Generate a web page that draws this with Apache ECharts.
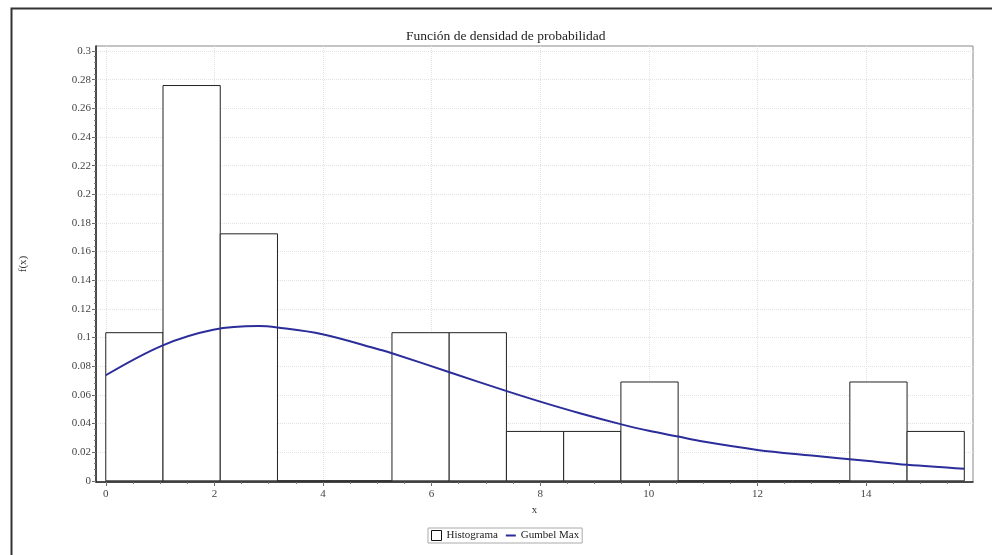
<!DOCTYPE html>
<html><head><meta charset="utf-8">
<script src="https://cdn.jsdelivr.net/npm/echarts@6/dist/echarts.min.js"></script>
<style>html,body{margin:0;padding:0;background:#fff}#c{width:992px;height:555px}</style>
</head><body><div id="c"></div>
<script>
// Histogram bins (edges) and densities
const binEdges = [0, 1.054, 2.108, 3.162, 4.216, 5.270, 6.324, 7.378, 8.432, 9.486, 10.540, 11.594, 12.648, 13.702, 14.756, 15.810];
const densities = [0.1034, 0.2759, 0.1724, 0, 0, 0.1034, 0.1034, 0.0345, 0.0345, 0.0690, 0, 0, 0, 0.0690, 0.0345];
// Gumbel Max curve
const curveX = [0, 1.04, 1.98, 2.81, 3.16, 3.99, 5.05, 5.27, 6.33, 7.37, 8.0, 8.73, 9.48, 10.0, 10.54, 11.0, 12.0, 13.0, 14.0, 14.76, 15.81];
const curveY = [0.0737, 0.0944, 0.1054, 0.1080, 0.1070, 0.1023, 0.0915, 0.0891, 0.0758, 0.0628, 0.0553, 0.0472, 0.0396, 0.0349, 0.0309, 0.0274, 0.0216, 0.0177, 0.0140, 0.0112, 0.0084];
// Tick labels
const xTicks = [0, 2, 4, 6, 8, 10, 12, 14];
const yTicks = [0, 0.02, 0.04, 0.06, 0.08, 0.1, 0.12, 0.14, 0.16, 0.18, 0.2, 0.22, 0.24, 0.26, 0.28, 0.3];

const xMinor = [];
for (let i = 0; i <= 31; i++) xMinor.push(i * 0.5);
const yMinor = [];
for (let i = 0; i <= 75; i++) yMinor.push(+(i * 0.004).toFixed(3));

const X_MIN = -0.18, X_MAX = 15.97, Y_MIN = -0.0008, Y_MAX = 0.3035;
const FONT = 'Liberation Serif';

const histData = densities.map((d, i) => [binEdges[i], binEdges[i + 1], d]);
const curveData = curveX.map((x, i) => [x, curveY[i]]);

const chart = echarts.init(document.getElementById('c'), null, {renderer: 'canvas'});
chart.setOption({
  animation: false,
  backgroundColor: '#fff',
  title: {
    text: 'Función de densidad de probabilidad',
    left: 401, top: 24,
    textStyle: {fontFamily: FONT, fontSize: 13.5, fontWeight: 'normal', color: '#222'}
  },
  graphic: [{
    type: 'rect', left: 9, top: 6, silent: true,
    shape: {width: 1000, height: 600},
    style: {fill: 'none', stroke: '#333', lineWidth: 2}
  }],
  legend: {
    top: 528, left: 428,
    orient: 'horizontal',
    padding: [2, 3, 2, 3],
    borderColor: '#aaa', borderWidth: 1,
    itemWidth: 10, itemHeight: 10, itemGap: 8,
    textStyle: {fontFamily: FONT, fontSize: 11, color: '#222'},
    data: [
      {name: 'Histograma', icon: 'rect', itemStyle: {color: '#fff', borderColor: '#111', borderWidth: 1}},
      {name: 'Gumbel Max', icon: 'path://M0,0L10,0L10,2L0,2Z', itemStyle: {color: '#2b2d9a', borderWidth: 0}}
    ]
  },
  grid: {
    left: 96, top: 46, right: 19, bottom: 73,
    show: true, borderColor: '#888', borderWidth: 1, backgroundColor: '#fff',
    containLabel: false, outerBoundsMode: 'none'
  },
  xAxis: [{
    type: 'value', min: X_MIN, max: X_MAX, position: 'bottom',
    name: 'x', nameLocation: 'middle', nameGap: 19,
    nameTextStyle: {fontFamily: FONT, fontSize: 11, color: '#333'},
    axisLine: {show: true, onZero: false, lineStyle: {color: '#222', width: 1.5}},
    axisTick: {show: true, customValues: xTicks, length: 4, lineStyle: {color: '#666'}},
    axisLabel: {customValues: xTicks, fontFamily: FONT, fontSize: 11, color: '#444', margin: 7},
    splitLine: {show: true, lineStyle: {color: '#e2e2e2', type: 'dotted'}}
  }, {
    type: 'value', min: X_MIN, max: X_MAX, position: 'bottom',
    axisLine: {show: false, onZero: false},
    axisTick: {show: true, customValues: xMinor, length: 2, lineStyle: {color: '#777'}},
    axisLabel: {show: false},
    splitLine: {show: false}
  }],
  yAxis: [{
    type: 'value', min: Y_MIN, max: Y_MAX, position: 'left',
    name: 'f(x)', nameLocation: 'middle', nameGap: 67,
    nameTextStyle: {fontFamily: FONT, fontSize: 11, color: '#333'},
    axisLine: {show: true, onZero: false, lineStyle: {color: '#222', width: 1.5}},
    axisTick: {show: true, customValues: yTicks, length: 4, lineStyle: {color: '#666'}},
    axisLabel: {customValues: yTicks, fontFamily: FONT, fontSize: 11, color: '#444', margin: 5},
    splitLine: {show: true, lineStyle: {color: '#e2e2e2', type: 'dotted'}}
  }, {
    type: 'value', min: Y_MIN, max: Y_MAX, position: 'left',
    axisLine: {show: false, onZero: false},
    axisTick: {show: true, customValues: yMinor, length: 2, lineStyle: {color: '#777'}},
    axisLabel: {show: false},
    splitLine: {show: false}
  }],
  series: [{
    name: 'Histograma',
    type: 'custom',
    xAxisIndex: 0, yAxisIndex: 0,
    encode: {x: [0, 1], y: 2},
    data: histData,
    z: 2,
    renderItem: function (params, api) {
      const p0 = api.coord([api.value(0), 0]);
      const p1 = api.coord([api.value(1), api.value(2)]);
      return {
        type: 'rect',
        shape: {x: p0[0], y: p1[1], width: p1[0] - p0[0], height: p0[1] - p1[1]},
        style: {fill: '#fff', stroke: '#222', lineWidth: 1}
      };
    }
  }, {
    name: 'Gumbel Max',
    type: 'line',
    xAxisIndex: 0, yAxisIndex: 0,
    data: curveData,
    smooth: 0.35,
    symbol: 'none',
    z: 3,
    color: '#2b2d9a',
    lineStyle: {color: '#2b2d9a', width: 2}
  }]
});
</script>
</body></html>
